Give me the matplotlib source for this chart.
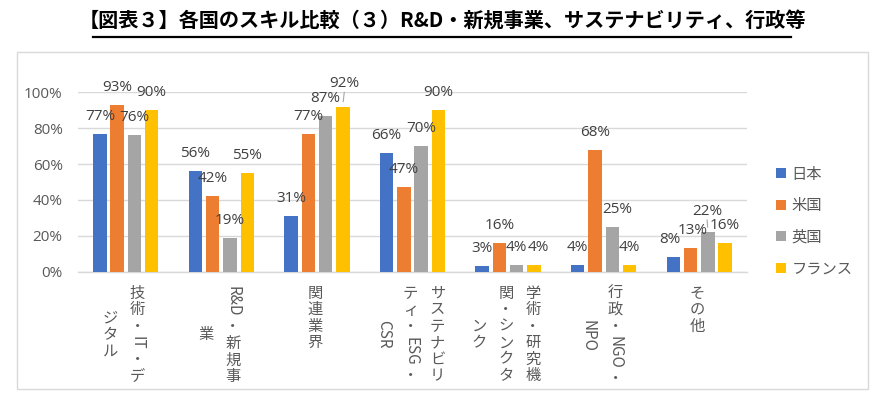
import re
import matplotlib
matplotlib.use('Agg')
import matplotlib.pyplot as plt
from matplotlib.patches import Rectangle
from matplotlib.lines import Line2D
from matplotlib.ticker import PercentFormatter

# data
categories = ['技術・IT・デ\nジタル', 'R&D・新規事\n業', '関連業界',
              'サステナビリ\nティ・ESG・\nCSR', '学術・研究機\n関・シンクタ\nンク',
              '行政・NGO・\nNPO', 'その他']
series = ['日本', '米国', '英国', 'フランス']
japan = [0.77, 0.56, 0.31, 0.66, 0.03, 0.04, 0.08]
usa = [0.93, 0.42, 0.77, 0.47, 0.16, 0.68, 0.13]
uk = [0.76, 0.19, 0.87, 0.70, 0.04, 0.25, 0.22]
france = [0.90, 0.55, 0.92, 0.90, 0.04, 0.04, 0.16]
title = '【図表３】各国のスキル比較（３）R&D・新規事業、サステナビリティ、行政等'

colors = ['#4472C4', '#ED7D31', '#A5A5A5', '#FFC000']
JP = ['Noto Sans CJK JP', 'DejaVu Sans']
NUM = ['Open Sans', 'DejaVu Sans']

# label nudges in pixels (dx, dy extra) for labels moved to avoid overlap
label_nudge = {(2, 3): (1.7, 5.5), (4, 3): (4.3, 0), (5, 2): (5.0, 0),
               (6, 2): (-1.0, 3.5), (6, 0): (-3.5, 0), (6, 1): (2.0, 0)}
leaders = [(2, 3), (6, 2)]

W, H = 877, 409
fig = plt.figure(figsize=(W / 100, H / 100), dpi=100)


def fx(px):
    return px / W


def fy(py):
    return 1 - py / H


# outer frame and title
fig.patches.append(Rectangle((fx(17), fy(389)), fx(868) - fx(17), fy(52) - fy(389),
                             transform=fig.transFigure, fill=False,
                             edgecolor='#d9d9d9', lw=1.0))
fig.text(fx(442), fy(21), title, ha='center', va='center', fontsize=14.5,
         family=JP, fontweight='bold', color='black')
fig.lines.append(Line2D([fx(93), fx(791)], [fy(37), fy(37)], transform=fig.transFigure,
                        color='black', lw=1.6))

ax = fig.add_axes([fx(78), fy(271.7), fx(747) - fx(78), fy(92.3) - fy(271.7)])
ax.set_xlim(-0.5, len(categories) - 0.5)
ax.set_ylim(0, 1.0)

step = 0.181
width = 0.141
all_vals = [japan, usa, uk, france]
for j, vals in enumerate(all_vals):
    xs = [i + (j - 1.5) * step for i in range(len(vals))]
    ax.bar(xs, vals, width=width, color=colors[j], label=series[j], zorder=3)
    for i, (x, v) in enumerate(zip(xs, vals)):
        dx, dy = label_nudge.get((i, j), (0, 0))
        ax.annotate(f'{round(v * 100)}%', (x, v), xytext=(dx * 0.72, (17.5 + dy) * 0.72),
                    textcoords='offset points', ha='center', va='center',
                    fontsize=11, family=NUM, color='#404040', zorder=4)
        if (i, j) in leaders:
            ax.annotate('', (x, v + 0.012), xytext=(dx * 0.72, (9.5 + dy) * 0.72),
                        textcoords='offset points',
                        arrowprops=dict(arrowstyle='-', color='#a6a6a6', lw=0.8))

ax.set_yticks([0, 0.2, 0.4, 0.6, 0.8, 1.0])
ax.yaxis.set_major_formatter(PercentFormatter(1.0, decimals=0))
ax.grid(axis='y', color='#d9d9d9', lw=1.0, zorder=0)
ax.tick_params(axis='y', length=0, pad=11, labelsize=11, labelcolor='#595959')
for lab in ax.get_yticklabels():
    lab.set_family(NUM)
ax.set_xticks([])
for s in ['top', 'right', 'left']:
    ax.spines[s].set_visible(False)
ax.spines['bottom'].set_color('#d9d9d9')
ax.spines['bottom'].set_linewidth(1.0)
ax.spines['bottom'].set_zorder(2)

# legend
fig.legend(loc='upper left', bbox_to_anchor=(fx(768), fy(158)), frameon=False,
           prop={'family': JP, 'size': 11}, labelcolor='#595959',
           handlelength=0.65, handleheight=0.65, handletextpad=0.4,
           labelspacing=0.95, borderpad=0)

# vertical category labels (Japanese tategaki, columns right to left)
renderer = fig.canvas.get_renderer()
cjk_step = 16.5
col_gap = 27
top_px = 285
lab_size = 11


def latin_width(tok):
    t = fig.text(0, 0, tok, fontsize=lab_size, family=JP)
    w = t.get_window_extent(renderer).width
    t.remove()
    return w + 3


for i, cat in enumerate(categories):
    cx = ax.transData.transform((i, 0))[0] - 2
    lines = cat.split('\n')
    toks_lines = [re.findall(r'[A-Za-z&]+|.', ln) for ln in lines]
    lens = []
    for toks in toks_lines:
        lens.append(sum(latin_width(t) if t.isascii() else cjk_step for t in toks))
    block = max(lens)
    n = len(lines)
    for k, toks in enumerate(toks_lines):
        x = cx + ((n - 1) / 2 - k) * col_gap
        y = top_px + (block - lens[k]) / 2
        for t in toks:
            if t.isascii():
                w = latin_width(t)
                fig.text(fx(x), fy(y + w / 2), t, rotation=-90, ha='center', va='center',
                         rotation_mode='anchor', fontsize=lab_size, family=JP, color='#595959')
                y += w
            else:
                fig.text(fx(x), fy(y + cjk_step / 2), t, ha='center', va='center',
                         fontsize=lab_size, family=JP, color='#595959')
                y += cjk_step

fig.savefig('out.png', dpi=100)
